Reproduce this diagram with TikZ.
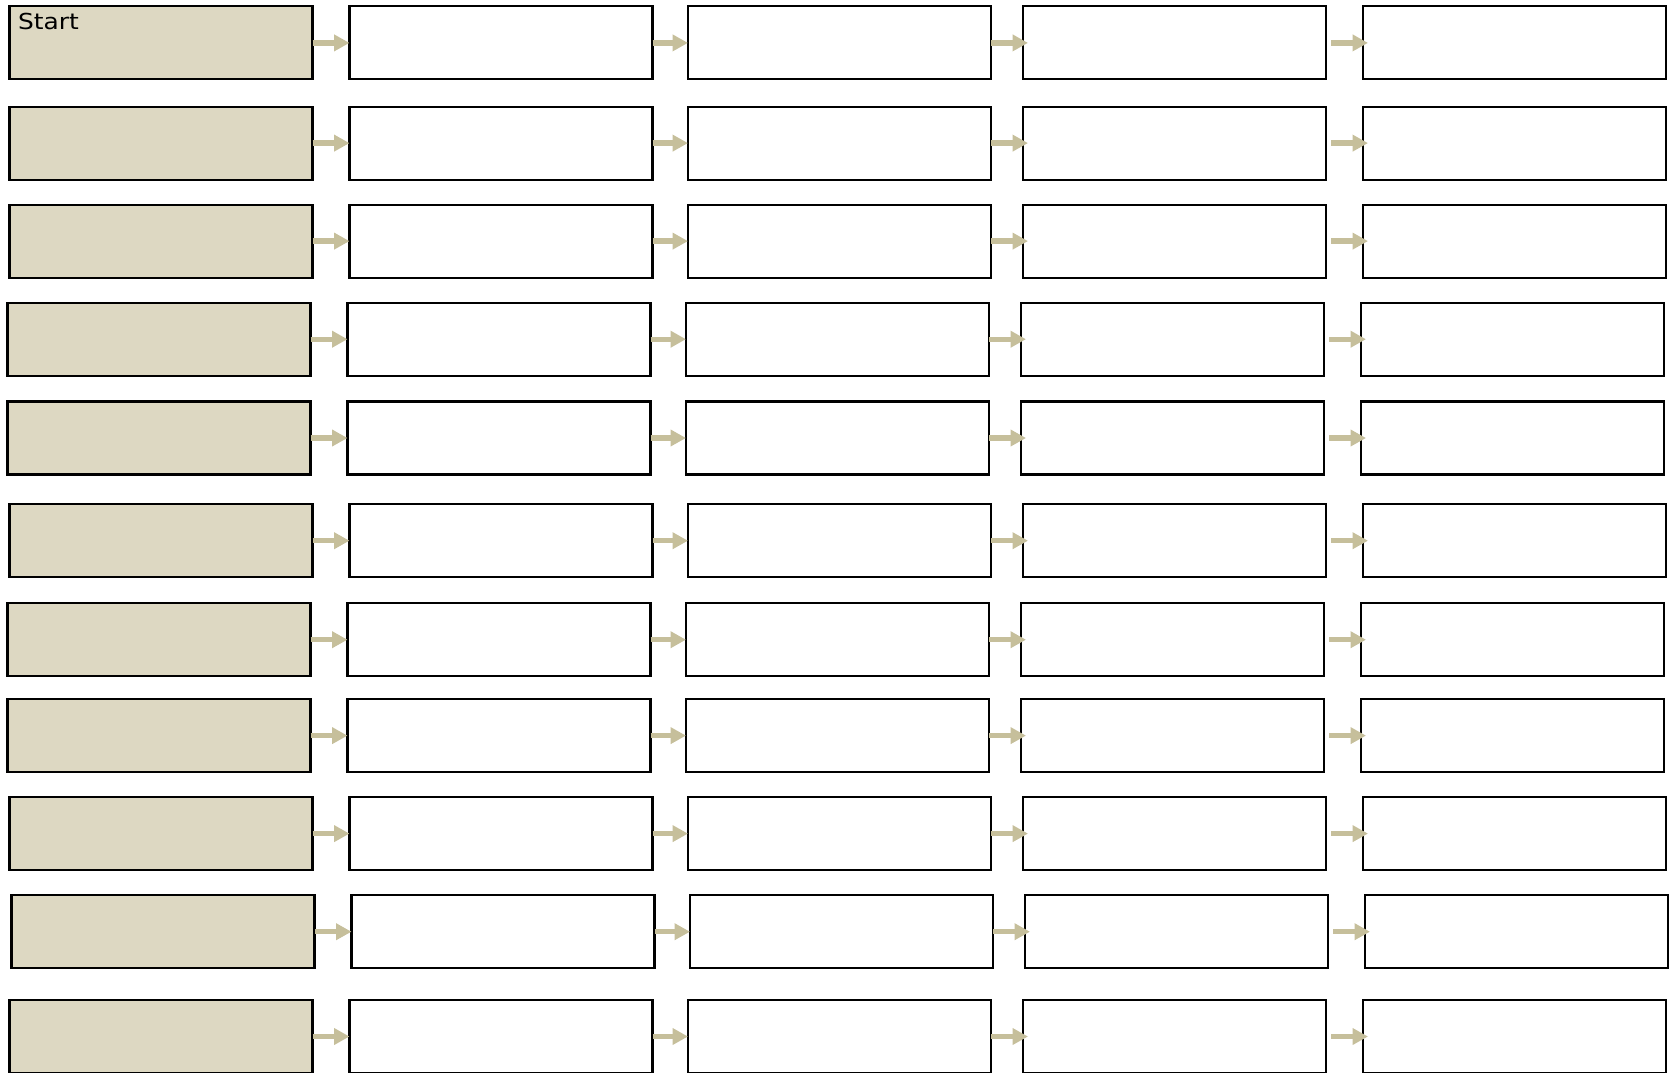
\documentclass[tikz,border=0pt]{standalone}
\usepackage{fontspec}
\newfontfamily\startfont{DejaVu Sans}
\usetikzlibrary{arrows.meta}
\definecolor{boxfill}{HTML}{DDD8C2}
\definecolor{arrowtan}{HTML}{C6BF9B}
\tikzset{
  cell/.style={draw=black, line width=2.1pt, minimum width=303pt, minimum height=73pt,
    inner sep=0pt, outer sep=0pt, anchor=north west},
  firstcell/.style={cell, fill=boxfill},
  othercell/.style={cell, fill=white},
  conn/.style={draw=arrowtan, line width=5.3pt,
    -{Triangle[length=15.5pt,width=16pt]}},
}
\begin{document}
\begin{tikzpicture}[x=1pt,y=-1pt]
\useasboundingbox (0,0) rectangle (1671,1072);
\foreach \r/\top/\dx in {1/6.4/0, 2/106.6/0, 3/204.6/0, 4/302.7/-2, 5/401.5/-2,
    6/504.2/0, 7/603.2/-2, 8/699.1/-2, 9/797.1/0, 10/895.2/2, 11/1000/0} {
  \node[firstcell] (b\r-1) at (9.5+\dx,\top) {};
  \node[othercell] (b\r-2) at (349.5+\dx,\top) {};
  \node[othercell] (b\r-3) at (688+\dx,\top) {};
  \node[othercell] (b\r-4) at (1022.7+\dx,\top) {};
  \node[othercell] (b\r-5) at (1362.7+\dx,\top) {};
  \draw[conn] (b\r-1.east) -- (b\r-2.west);
  \draw[conn] (b\r-2.east) -- (b\r-3.west);
  \draw[conn] (b\r-3.east) -- ([xshift=5.3pt]b\r-4.west);
  \draw[conn] ([xshift=5.7pt]b\r-4.east) -- ([xshift=5.3pt]b\r-5.west);
}
\node[anchor=base west, inner sep=0pt, font=\startfont\fontsize{22}{26}\selectfont] (start) at (18,29.3) {\scalebox{1.13}[1]{Start}};
\end{tikzpicture}
\end{document}
